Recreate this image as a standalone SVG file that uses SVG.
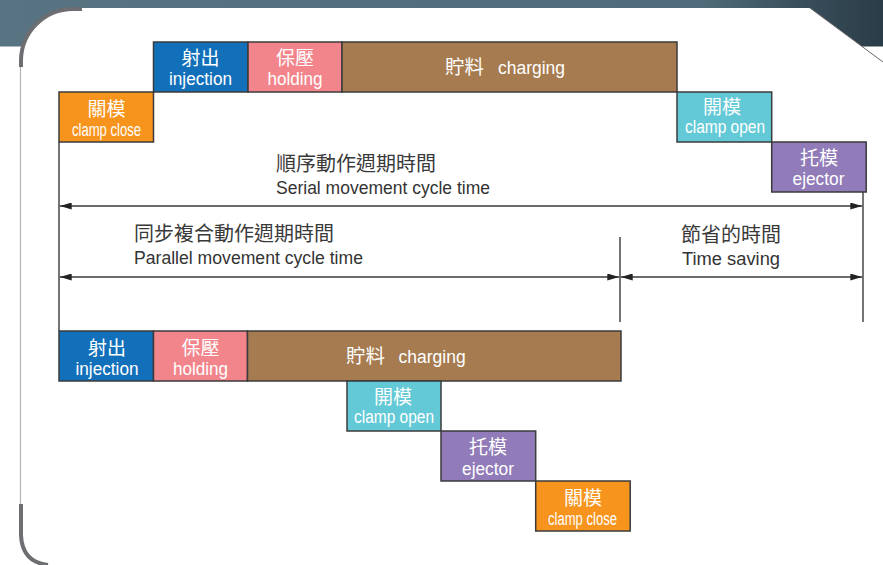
<svg xmlns="http://www.w3.org/2000/svg" width="883" height="565" viewBox="0 0 883 565">
<defs>
<linearGradient id="band" x1="0" y1="0" x2="1" y2="0">
<stop offset="0" stop-color="#587382"/>
<stop offset="0.8" stop-color="#4f6a78"/>
<stop offset="0.9" stop-color="#3a505d"/>
<stop offset="1" stop-color="#2a3c47"/>
</linearGradient>
<marker id="arr" viewBox="0 0 12 7" refX="12" refY="3.5" markerWidth="12" markerHeight="7" markerUnits="userSpaceOnUse" orient="auto-start-reverse">
<path d="M0,0 L12,3.5 L0,7 Z" fill="#222"/>
</marker>
<style>
.box{stroke:#3b3b3b;stroke-width:1.5}
.zh{font-family:"Noto Sans CJK TC","Noto Sans CJK SC",sans-serif;font-size:19px;fill:#fff;text-anchor:middle}
.en{font-family:"Liberation Sans",Arial,sans-serif;font-size:18px;fill:#fff;text-anchor:middle}
.mix{font-family:"Liberation Sans","Noto Sans CJK TC",sans-serif;font-size:18px;fill:#fff}
.lz{font-family:"Noto Sans CJK TC","Noto Sans CJK SC",sans-serif;font-size:20px;fill:#3a3a3a}
.le{font-family:"Liberation Sans",Arial,sans-serif;font-size:17.5px;fill:#333}
.ln{stroke:#3a3a3a;stroke-width:1.4;fill:none}
.orange{fill:#F7941D}.blue{fill:#1270BA}.pink{fill:#F2858B}.brown{fill:#A67B50}.cyan{fill:#64C9D6}.purple{fill:#917BB8}
</style>
</defs>
<!-- background -->
<rect x="0" y="0" width="883" height="565" fill="#fff"/>
<rect x="0" y="0" width="883" height="46.5" fill="url(#band)"/>
<path d="M20,565 L20,63 A55,55 0 0 1 75,8 L810,8 L883,62 L883,565 Z" fill="#fff"/>
<path d="M21,67 L21,60 A52,52 0 0 1 73,9 L82,9" fill="none" stroke="#6d6e71" stroke-width="4"/>
<line x1="20.5" y1="67" x2="20.5" y2="505" stroke="#b3b3b3" stroke-width="1.2"/>
<path d="M21,504 L21,535 Q22,562 48,565" fill="none" stroke="#6d6e71" stroke-width="4"/>
<line x1="810" y1="8" x2="883" y2="62" stroke="#666" stroke-width="1"/>

<g id="connectors">
<line class="ln" x1="59" y1="142" x2="59" y2="331"/>
<line class="ln" x1="620" y1="237" x2="620" y2="322"/>
<line class="ln" x1="863" y1="192" x2="863" y2="322"/>
<line class="ln" x1="59.7" y1="206" x2="862.3" y2="206" marker-start="url(#arr)" marker-end="url(#arr)"/>
<line class="ln" x1="59.7" y1="277" x2="619.3" y2="277" marker-start="url(#arr)" marker-end="url(#arr)"/>
<line class="ln" x1="620.7" y1="277" x2="862.3" y2="277" marker-start="url(#arr)" marker-end="url(#arr)"/>
</g>

<g id="label-serial">
<text class="lz" x="276" y="170.5">順序動作週期時間</text>
<text class="le" x="276" y="193.5" textLength="214" lengthAdjust="spacingAndGlyphs">Serial movement cycle time</text>
</g>
<g id="label-parallel">
<text class="lz" x="134" y="241">同步複合動作週期時間</text>
<text class="le" x="134" y="264" textLength="229" lengthAdjust="spacingAndGlyphs">Parallel movement cycle time</text>
</g>
<g id="label-saving">
<text class="lz" x="681" y="242">節省的時間</text>
<text class="le" x="682" y="264.5" textLength="98" lengthAdjust="spacingAndGlyphs">Time saving</text>
</g>

<!-- serial row -->
<g id="serial-clamp-close">
<rect class="box orange" x="59" y="92" width="94.5" height="50"/>
<text class="zh" x="106.5" y="115.5">關模</text>
<text class="en" x="106.5" y="135.5" textLength="69" lengthAdjust="spacingAndGlyphs">clamp close</text>
</g>
<g id="serial-injection">
<rect class="box blue" x="153.5" y="42" width="94.5" height="50"/>
<text class="zh" x="200.5" y="64.5">射出</text>
<text class="en" x="200.5" y="85" textLength="63" lengthAdjust="spacingAndGlyphs">injection</text>
</g>
<g id="serial-holding">
<rect class="box pink" x="248" y="42" width="94" height="50"/>
<text class="zh" x="295" y="64.5">保壓</text>
<text class="en" x="295" y="85" textLength="55" lengthAdjust="spacingAndGlyphs">holding</text>
</g>
<g id="serial-charging">
<rect class="box brown" x="342" y="42" width="335" height="50"/>
<text class="mix" x="445" y="74"><tspan style="font-family:'Noto Sans CJK TC',sans-serif;font-size:19.5px">貯料 </tspan><tspan x="498" textLength="67" lengthAdjust="spacingAndGlyphs">charging</tspan></text>
</g>
<g id="serial-clamp-open">
<rect class="box cyan" x="677" y="92" width="94.7" height="50"/>
<text class="zh" x="722" y="113.5">開模</text>
<text class="en" x="725" y="133" textLength="80" lengthAdjust="spacingAndGlyphs">clamp open</text>
</g>
<g id="serial-ejector">
<rect class="box purple" x="771.7" y="142" width="94.5" height="50"/>
<text class="zh" x="819" y="165">托模</text>
<text class="en" x="818.5" y="185" textLength="52" lengthAdjust="spacingAndGlyphs">ejector</text>
</g>

<!-- parallel row -->
<g id="parallel-injection">
<rect class="box blue" x="59" y="331" width="94.5" height="50"/>
<text class="zh" x="107" y="354.5">射出</text>
<text class="en" x="107" y="375" textLength="63" lengthAdjust="spacingAndGlyphs">injection</text>
</g>
<g id="parallel-holding">
<rect class="box pink" x="153.5" y="331" width="94" height="50"/>
<text class="zh" x="200.5" y="354.5">保壓</text>
<text class="en" x="200.5" y="375" textLength="55" lengthAdjust="spacingAndGlyphs">holding</text>
</g>
<g id="parallel-charging">
<rect class="box brown" x="247.5" y="331" width="373.5" height="50"/>
<text class="mix" x="346" y="363"><tspan style="font-family:'Noto Sans CJK TC',sans-serif;font-size:19.5px">貯料 </tspan><tspan x="398.6" textLength="67" lengthAdjust="spacingAndGlyphs">charging</tspan></text>
</g>
<g id="parallel-clamp-open">
<rect class="box cyan" x="347" y="381" width="94" height="50"/>
<text class="zh" x="393" y="403.5">開模</text>
<text class="en" x="394" y="423" textLength="80" lengthAdjust="spacingAndGlyphs">clamp open</text>
</g>
<g id="parallel-ejector">
<rect class="box purple" x="441" y="431" width="94.7" height="50"/>
<text class="zh" x="488" y="454">托模</text>
<text class="en" x="488" y="474.5" textLength="52" lengthAdjust="spacingAndGlyphs">ejector</text>
</g>
<g id="parallel-clamp-close">
<rect class="box orange" x="535.7" y="481" width="94.5" height="50"/>
<text class="zh" x="583" y="505">關模</text>
<text class="en" x="582.5" y="525" textLength="69" lengthAdjust="spacingAndGlyphs">clamp close</text>
</g>
</svg>
